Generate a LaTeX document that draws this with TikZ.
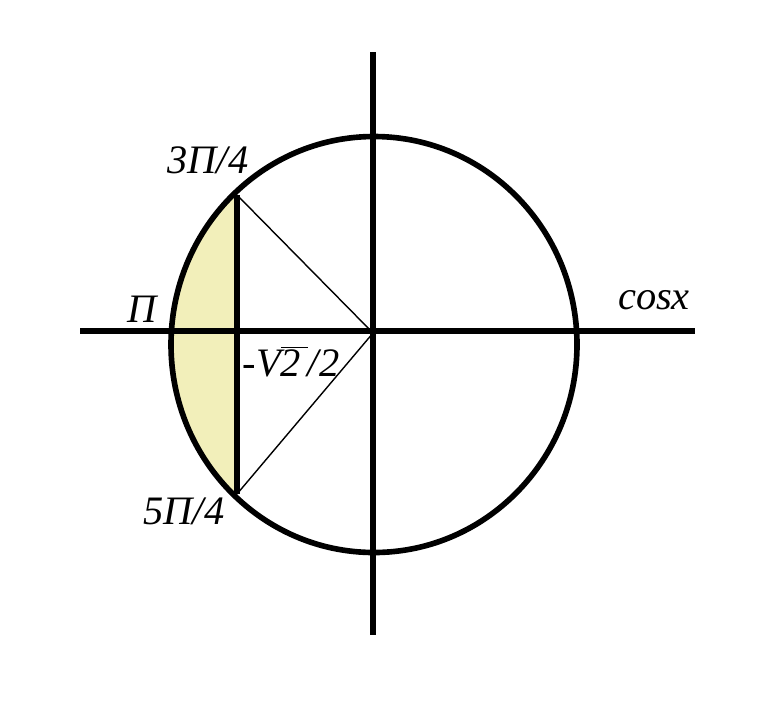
\documentclass[tikz,border=0pt]{standalone}
\usepackage{fontspec}
\setmainfont{Liberation Serif}
\usepackage{tikz}
\usetikzlibrary{positioning,calc}
\definecolor{arcfill}{RGB}{242,239,186}
\tikzset{axisline/.style={
  % The line:
  line width=3.2pt,
  draw=black,
  }
}
\tikzset{radius line/.style={
  % The line:
  line width=0.8pt,
  draw=black,
  }
}
\tikzset{angle label/.style={
  % Font:
  font=\fontsize{23}{26}\selectfont\itshape,
  inner sep=0pt,
  }
}

\begin{document}
\begin{tikzpicture}[x=0.02cm,y=-0.02cm]
  \useasboundingbox (0,0) rectangle (766,704);
  % points of the circle
  \coordinate (O) at (373,333);
  \coordinate (C) at (374,344.5);
  \coordinate (A) at (237,195);
  \coordinate (B) at (237,494);
  % the shaded segment
  \begin{scope}
    \clip (C) ellipse [x radius=203,y radius=208];
    \fill[arcfill] (100,150) rectangle (237,540);
  \end{scope}
  % axes
  \coordinate (xl) at (80,331);
  \coordinate (xr) at (695,331);
  \coordinate (yt) at (373,52);
  \coordinate (yb) at (373,635);
  \draw[axisline] (xl) -- (xr);
  \draw[axisline] (yt) -- (yb);
  % circle
  \draw[axisline] (C) ellipse [x radius=203,y radius=208];
  % chord and radii
  \draw[axisline] (A) -- (B);
  \draw[radius line] (A) -- (O) -- (B);
  % labels
  \node (l3) [angle label] at (208,160) {3П/4};
  \node (l5) [angle label] at (184,511) {5П/4};
  \node (lpi) [angle label] at (142,309) {П};
  \node (lcos) [angle label] at (654,300) {cosx};
  \node (lsq) [angle label] at (291,362) {-V$\overline{\mbox{\fontsize{23}{26}\selectfont\itshape 2\,}}$/2};
\end{tikzpicture}
\end{document}
